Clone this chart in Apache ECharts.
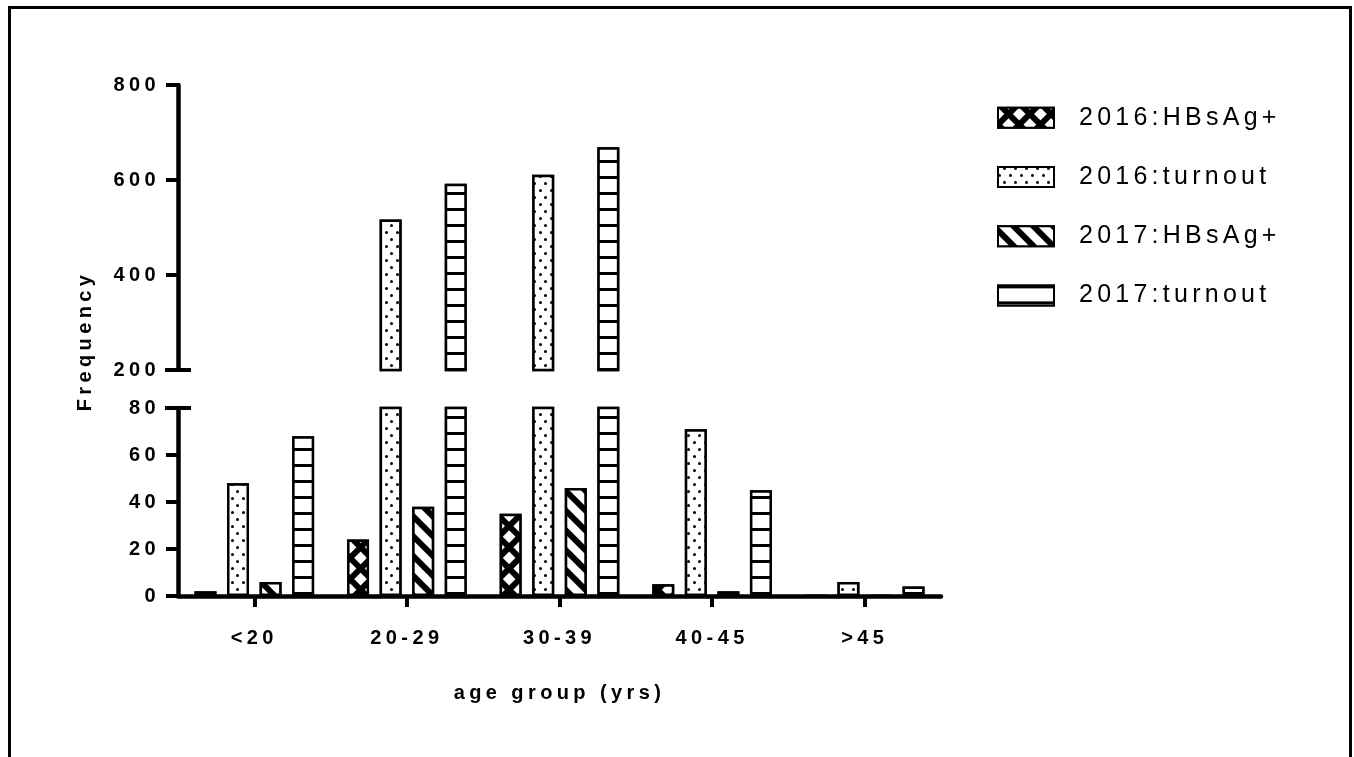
<!DOCTYPE html>
<html>
<head>
<meta charset="utf-8">
<title>HBsAg by age group</title>
<script src="https://cdn.jsdelivr.net/npm/echarts@6/dist/echarts.min.js"></script>
<style>
  html, body { margin: 0; padding: 0; background: #fff; overflow: hidden; }
  .frame {
    position: absolute; left: 8px; top: 6px; width: 1344px; height: 800px;
    border: 3px solid #000; box-sizing: border-box;
  }
  #chart { position: absolute; left: 0; top: 0; width: 1354px; height: 757px; }
</style>
</head>
<body>
<div class="frame"></div>
<div id="chart"></div>
<script>
const categories = ['<20', '20-29', '30-39', '40-45', '>45']
const hbsag2016 = [2, 24, 35, 5, 0]
const turnout2016 = [48, 517, 611, 71, 6]
const hbsag2017 = [6, 38, 46, 2, 0]
const turnout2017 = [68, 592, 669, 45, 4]

const seriesNames = ['2016:HBsAg+', '2016:turnout', '2017:HBsAg+', '2017:turnout']
const lowerTicks = { min: 0, max: 80, interval: 20 }
const upperTicks = { min: 200, max: 800, interval: 200 }

// wide letter spacing like the original (canvas letterSpacing, applied to draw + measure)
const proto = CanvasRenderingContext2D.prototype
const applySpacing = (ctx) => {
  const m = /(\d+(?:\.\d+)?)px/.exec(ctx.font || '')
  const size = m ? parseFloat(m[1]) : 12
  const ratio = /bold|[6-9]00/.test(ctx.font) ? 0.22 : 0.17
  ctx.letterSpacing = (size * ratio).toFixed(2) + 'px'
}
const origFill = proto.fillText
const origMeasure = proto.measureText
proto.fillText = function (...args) { applySpacing(this); return origFill.apply(this, args) }
proto.measureText = function (...args) { applySpacing(this); return origMeasure.apply(this, args) }

const FONT = 'Liberation Sans'
const LEFT = 178
const RIGHT = 413
const UPPER_TOP = 85
const UPPER_H = 285
const LOWER_TOP = 408
const LOWER_H = 188

const decals = [
  // cross hatch: white diamonds on black
  { symbol: 'rect', symbolSize: 1, color: '#fff', backgroundColor: '#000',
    dashArrayX: [9, 6], dashArrayY: [9, 6], rotation: Math.PI / 4 },
  // dots
  { symbol: 'circle', symbolSize: 1, color: '#000', backgroundColor: '#fff',
    dashArrayX: [[2.5, 7.5], [0, 5, 2.5, 2.5]], dashArrayY: [2.5, 4] },
  // diagonal stripes
  { symbol: 'rect', symbolSize: 1, color: '#000', backgroundColor: '#fff',
    dashArrayX: [1, 0], dashArrayY: [5.5, 7.5], rotation: Math.PI / 4 },
  // horizontal rungs
  { symbol: 'rect', symbolSize: 1, color: '#000', backgroundColor: '#fff',
    dashArrayX: [1, 0], dashArrayY: [2.5, 12.8] },
]
const values = [hbsag2016, turnout2016, hbsag2017, turnout2017]

const makeSeries = (gridIdx) => values.map((vals, i) => ({
  name: seriesNames[i],
  type: 'bar',
  xAxisIndex: gridIdx,
  yAxisIndex: gridIdx,
  barWidth: 22,
  barGap: '48%',
  clip: true,
  data: gridIdx === 0 ? vals.map((v) => (v > upperTicks.min ? v : null)) : vals,
  itemStyle: { color: '#fff', borderColor: '#000', borderWidth: 2.5, decal: decals[i] },
  emphasis: { disabled: true },
}))

const axisLine = { show: true, lineStyle: { color: '#000', width: 4.5 } }
const axisTick = { show: true, length: 12, lineStyle: { color: '#000', width: 4 } }
const labelStyle = { color: '#000', fontFamily: FONT, fontWeight: 'bold', fontSize: 20 }

const chart = echarts.init(document.getElementById('chart'))
chart.setOption({
  animation: false,
  textStyle: { fontFamily: FONT },
  grid: [
    { left: LEFT, right: RIGHT, top: UPPER_TOP, height: UPPER_H },
    { left: LEFT, right: RIGHT, top: LOWER_TOP, height: LOWER_H },
  ],
  xAxis: [
    { type: 'category', gridIndex: 0, data: categories, show: false },
    {
      type: 'category', gridIndex: 1, data: categories,
      axisLine, axisTick: { ...axisTick, length: 11, alignWithLabel: true },
      axisLabel: { ...labelStyle, margin: 30 },
      name: 'age group (yrs)', nameLocation: 'middle', nameGap: 85,
      nameTextStyle: labelStyle,
    },
  ],
  yAxis: [
    {
      type: 'value', gridIndex: 0, ...upperTicks,
      splitLine: { show: false }, axisLine, axisTick,
      axisLabel: { ...labelStyle, margin: 18 },
    },
    {
      type: 'value', gridIndex: 1, ...lowerTicks,
      splitLine: { show: false }, axisLine, axisTick,
      axisLabel: { ...labelStyle, margin: 18 },
    },
  ],
  legend: {
    data: seriesNames,
    orient: 'vertical',
    left: 992,
    top: 98,
    icon: 'rect',
    itemWidth: 56,
    itemHeight: 20,
    itemGap: 30,
    selectedMode: false,
    textStyle: { color: '#000', fontFamily: FONT, fontSize: 25, lineHeight: 20, padding: [0, 0, 0, 20] },
  },
  graphic: [
    {
      type: 'text', x: 85, y: 341, rotation: Math.PI / 2,
      style: { text: 'Frequency', font: 'bold 20px ' + FONT, fill: '#000', align: 'center', verticalAlign: 'middle' },
    },
    // axis break caps
    { type: 'line', shape: { x1: LEFT - 13, y1: UPPER_TOP + UPPER_H, x2: LEFT + 13, y2: UPPER_TOP + UPPER_H }, style: { stroke: '#000', lineWidth: 4 } },
    { type: 'line', shape: { x1: LEFT - 13, y1: LOWER_TOP, x2: LEFT + 13, y2: LOWER_TOP }, style: { stroke: '#000', lineWidth: 4 } },
  ],
  series: [...makeSeries(0), ...makeSeries(1)],
})
</script>
</body>
</html>
